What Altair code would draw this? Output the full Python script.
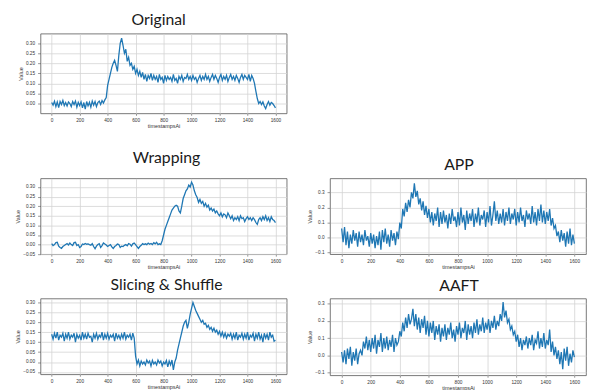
import altair as alt
import pandas as pd

# timestamps (every 10th sample)
TIMES = list(range(0, 1601, 10))
X_TICKS = [0, 200, 400, 600, 800, 1000, 1200, 1400, 1600]
Y_TICKS_A = [-0.05, 0.0, 0.05, 0.10, 0.15, 0.20, 0.25, 0.30]
Y_TICKS_B = [-0.1, 0.0, 0.1, 0.2, 0.3]

original = [
    0.005, -0.008, 0.012, -0.015, 0.008, -0.02, 0.01, -0.005, 0.015, -0.01,
    0.005, -0.012, 0.008, 0.0, -0.015, 0.01, -0.005, 0.012, -0.018, 0.006,
    -0.01, 0.008, -0.022, 0.005, -0.028, 0.01, -0.012, 0.006, -0.018, 0.012,
    -0.008, 0.01, -0.015, 0.005, 0.012, -0.005, 0.015, 0.002, 0.018, 0.03,
    0.09, 0.12, 0.15, 0.18, 0.2, 0.215, 0.19, 0.16, 0.24, 0.3,
    0.325, 0.29, 0.25, 0.27, 0.21, 0.23, 0.19, 0.2, 0.17, 0.185,
    0.15, 0.17, 0.14, 0.16, 0.13, 0.155, 0.12, 0.145, 0.11, 0.14,
    0.125, 0.15, 0.115, 0.14, 0.12, 0.135, 0.105, 0.145, 0.12, 0.13,
    0.1, 0.14, 0.115, 0.135, 0.12, 0.13, 0.11, 0.145, 0.115, 0.125,
    0.1, 0.135, 0.12, 0.14, 0.11, 0.13, 0.125, 0.145, 0.12, 0.135,
    0.115, 0.14, 0.12, 0.13, 0.105, 0.125, 0.14, 0.115, 0.135, 0.12,
    0.145, 0.12, 0.135, 0.11, 0.13, 0.145, 0.12, 0.14, 0.125, 0.105,
    0.13, 0.145, 0.115, 0.135, 0.12, 0.14, 0.11, 0.13, 0.145, 0.12,
    0.135, 0.115, 0.14, 0.125, 0.105, 0.13, 0.145, 0.12, 0.14, 0.13,
    0.12, 0.145, 0.11, 0.14, 0.125, 0.1, 0.06, 0.025, 0.0, 0.01,
    -0.005, 0.008, -0.012, -0.025, -0.005, 0.01, -0.008, 0.005, 0.0, -0.01,
    -0.022,
]

wrapping = [
    0.005, -0.005, 0.0, 0.01, 0.012, -0.008, -0.015, -0.02, -0.01, -0.005,
    0.0, 0.005, -0.002, 0.008, 0.0, -0.005, 0.01, 0.012, -0.005, 0.0,
    -0.015, -0.01, 0.003, 0.0, 0.006, 0.002, 0.004, 0.0, -0.003, 0.005,
    -0.01, -0.022, -0.008, 0.0, 0.005, -0.015, -0.005, 0.008, 0.003, -0.002,
    -0.01, -0.005, 0.0, -0.012, -0.02, -0.01, -0.005, 0.003, 0.0, -0.015,
    -0.008, -0.01, -0.004, 0.0, -0.006, 0.005, 0.002, -0.008, 0.004, 0.008,
    0.0, -0.01, -0.02, -0.01, -0.004, 0.005, 0.0, 0.004, 0.0, 0.008,
    0.002, 0.006, 0.0, 0.01, 0.004, 0.012, 0.0, 0.004, 0.0, 0.02,
    0.05, 0.08, 0.1, 0.12, 0.14, 0.16, 0.18, 0.19, 0.2, 0.205,
    0.2, 0.175, 0.165, 0.2, 0.24, 0.26, 0.28, 0.29, 0.31, 0.3,
    0.325, 0.31, 0.28, 0.26, 0.245, 0.22, 0.235, 0.215, 0.225, 0.2,
    0.215, 0.195, 0.205, 0.18, 0.19, 0.175, 0.185, 0.165, 0.175, 0.16,
    0.15, 0.165, 0.145, 0.16, 0.155, 0.14, 0.165, 0.15, 0.135, 0.15,
    0.125, 0.14, 0.13, 0.145, 0.125, 0.15, 0.135, 0.14, 0.12, 0.135,
    0.145, 0.13, 0.14, 0.125, 0.14, 0.13, 0.115, 0.105, 0.13, 0.14,
    0.125, 0.145, 0.13, 0.15, 0.125, 0.14, 0.12, 0.145, 0.13, 0.125,
    0.115,
]

app = [
    0.06, -0.03, 0.07, -0.05, 0.04, -0.07, 0.02, -0.04, 0.05, -0.02,
    0.03, -0.06, 0.04, -0.03, 0.02, -0.05, 0.05, -0.02, 0.01, -0.06,
    0.03, -0.04, 0.02, -0.07, 0.01, -0.05, 0.04, -0.08, 0.05, -0.03,
    0.06, -0.04, 0.02, -0.06, 0.05, -0.02, 0.03, -0.05, 0.04, -0.01,
    0.1, 0.06, 0.19, 0.14, 0.23, 0.17, 0.25, 0.2, 0.3, 0.26,
    0.36, 0.27, 0.31, 0.22, 0.26, 0.18, 0.24, 0.15, 0.21, 0.13,
    0.19, 0.1, 0.17, 0.08, 0.16, 0.11, 0.2, 0.07, 0.17, 0.09,
    0.18, 0.1, 0.15, 0.06, 0.16, 0.09, 0.19, 0.11, 0.14, 0.07,
    0.17, 0.08, 0.2, 0.1, 0.15, 0.05, 0.18, 0.09, 0.16, 0.11,
    0.19, 0.07, 0.16, 0.1, 0.2, 0.08, 0.15, 0.12, 0.18, 0.07,
    0.17, 0.1, 0.21, 0.08, 0.15, 0.24, 0.11, 0.18, 0.09, 0.16,
    0.1, 0.19, 0.08, 0.17, 0.11, 0.2, 0.09, 0.16, 0.12, 0.19,
    0.08, 0.17, 0.1, 0.2, 0.11, 0.15, 0.07, 0.18, 0.12, 0.16,
    0.09, 0.21, 0.1, 0.17, 0.08, 0.19, 0.11, 0.22, 0.1, 0.18,
    0.09, 0.17, 0.11, 0.19, 0.08, 0.13, 0.06, 0.08, 0.01, 0.04,
    -0.03, 0.05, -0.02, 0.03, -0.06, 0.04, -0.04, 0.06, -0.05, 0.02,
    -0.04,
]

slicing = [
    0.14, 0.115, 0.145, 0.12, 0.15, 0.11, 0.135, 0.125, 0.145, 0.105,
    0.14, 0.12, 0.15, 0.115, 0.135, 0.125, 0.145, 0.1, 0.14, 0.12,
    0.135, 0.11, 0.15, 0.12, 0.14, 0.115, 0.145, 0.125, 0.13, 0.1,
    0.14, 0.12, 0.145, 0.115, 0.135, 0.125, 0.15, 0.11, 0.14, 0.12,
    0.145, 0.115, 0.135, 0.125, 0.14, 0.105, 0.145, 0.12, 0.135, 0.115,
    0.14, 0.12, 0.15, 0.115, 0.135, 0.125, 0.14, 0.11, 0.145, 0.12,
    0.03, -0.01, 0.01, -0.02, 0.005, -0.01, 0.0, -0.015, 0.01, -0.005,
    0.005, -0.02, 0.008, -0.01, 0.0, -0.015, 0.01, -0.005, 0.005, -0.02,
    0.0, -0.01, 0.008, -0.025, 0.005, -0.015, 0.01, -0.04, 0.0, 0.02,
    0.06, 0.09, 0.12, 0.15, 0.18, 0.2, 0.21, 0.17, 0.2, 0.24,
    0.27, 0.3, 0.28, 0.26, 0.245, 0.23, 0.215, 0.2, 0.21, 0.19,
    0.195, 0.175, 0.185, 0.165, 0.175, 0.155, 0.17, 0.15, 0.16, 0.14,
    0.155, 0.13, 0.15, 0.125, 0.145, 0.12, 0.14, 0.13, 0.145, 0.115,
    0.14, 0.12, 0.15, 0.11, 0.135, 0.125, 0.145, 0.115, 0.14, 0.12,
    0.15, 0.11, 0.135, 0.125, 0.145, 0.105, 0.14, 0.12, 0.15, 0.115,
    0.135, 0.1, 0.145, 0.12, 0.14, 0.11, 0.15, 0.125, 0.135, 0.105,
    0.11,
]

aaft = [
    0.02, -0.04, 0.03, -0.05, 0.04, -0.02, 0.05, -0.06, 0.02, -0.03,
    0.04, -0.05, 0.01, 0.03, 0.0, 0.08, 0.04, 0.11, 0.03, 0.09,
    0.02, 0.1, 0.04, 0.12, 0.01, 0.09, 0.05, 0.13, 0.02, 0.1,
    0.04, 0.11, 0.03, 0.09, 0.05, 0.12, 0.02, 0.1, 0.06, 0.08,
    0.14, 0.11, 0.19, 0.14, 0.22, 0.16, 0.24, 0.18, 0.21, 0.27,
    0.17, 0.24, 0.15, 0.22, 0.13, 0.21, 0.16, 0.23, 0.12, 0.2,
    0.11, 0.19, 0.13, 0.2, 0.09, 0.17, 0.12, 0.18, 0.08, 0.16,
    0.11, 0.18, 0.09, 0.16, 0.12, 0.19, 0.1, 0.15, 0.08, 0.17,
    0.12, 0.19, 0.1, 0.16, 0.13, 0.2, 0.09, 0.18, 0.12, 0.17,
    0.1, 0.19, 0.13, 0.21, 0.12, 0.18, 0.14, 0.22, 0.13, 0.19,
    0.15, 0.21, 0.13, 0.2, 0.16, 0.23, 0.15, 0.2, 0.17, 0.24,
    0.2, 0.31, 0.22, 0.26, 0.19, 0.21, 0.15, 0.17, 0.12, 0.14,
    0.08, 0.12, 0.05, 0.1, 0.03, 0.09, 0.06, 0.11, 0.04, 0.1,
    0.06, 0.12, 0.03, 0.09, 0.07, 0.14, 0.04, 0.1, 0.05, 0.13,
    0.04, 0.09, 0.06, 0.15, 0.02, 0.08, 0.0, 0.05, -0.02, 0.03,
    -0.05, 0.02, -0.08, 0.04, -0.03, 0.05, -0.06, 0.01, -0.04, 0.03,
    -0.01,
]

LINE_COLOR = "#1f77b4"
TITLE_FONT = "Lato"
TICK_FONT = "Liberation Sans"


def panel(values, title, ydom, yticks, yfmt, w, h, dx, offset):
    df = pd.DataFrame({"t": TIMES, "v": values})
    return (
        alt.Chart(
            df,
            title=alt.TitleParams(
                title, font=TITLE_FONT, fontSize=16, fontWeight="normal",
                color="#1a1a1a", anchor="middle", baseline="alphabetic",
                offset=offset, dx=dx,
            ),
        )
        .mark_line(color=LINE_COLOR, strokeWidth=1.3)
        .encode(
            x=alt.X(
                "t:Q",
                scale=alt.Scale(domain=[-80, 1680], nice=False, zero=False),
                axis=alt.Axis(values=X_TICKS, format="d", title="timestampsAi",
                              tickSize=2, labelPadding=2, titlePadding=2),
            ),
            y=alt.Y(
                "v:Q",
                scale=alt.Scale(domain=ydom, nice=False, zero=False),
                axis=alt.Axis(values=yticks, format=yfmt, title="Value",
                              tickSize=3, labelPadding=3, titlePadding=2),
            ),
        )
        .properties(width=w, height=h)
    )


p_orig = panel(original, "Original", [-0.049, 0.348], Y_TICKS_A, ".2f", 250, 81, -5, -7)
p_wrap = panel(wrapping, "Wrapping", [-0.05, 0.345], Y_TICKS_A, ".2f", 250, 77, 3, 0)
p_app = panel(app, "APP", [-0.11, 0.393], Y_TICKS_B, ".1f", 260, 77, 1, -8)
p_slic = panel(slicing, "Slicing & Shuffle", [-0.062, 0.32], Y_TICKS_A, ".2f", 250, 77, 3, -7)
p_aaft = panel(aaft, "AAFT", [-0.115, 0.33], Y_TICKS_B, ".1f", 260, 78, 1, -8)

spacer = (
    alt.Chart(pd.DataFrame({"a": [0]}))
    .mark_point(opacity=0)
    .encode(x=alt.X("a:Q", axis=None), y=alt.Y("a:Q", axis=None))
    .properties(width=260, height=102, view=alt.ViewBackground(stroke="transparent"))
)

chart = (
    alt.concat(
        p_orig, spacer, p_wrap, p_app, p_slic, p_aaft,
        columns=2, spacing={"row": 45, "column": 44}, bounds="flush", align="each",
    )
    .properties(padding={"left": 7, "top": 0, "right": 0, "bottom": 0}, background="white")
    .configure_view(stroke="#555555", strokeWidth=0.8)
    .configure_axis(
        domain=False, grid=True, gridColor="#d4d4d4", gridWidth=0.8,
        tickColor="#555555", tickWidth=0.6,
        labelFont=TICK_FONT, labelFontSize=4.8, labelColor="#333333",
        titleFont=TICK_FONT, titleFontSize=5.5, titleFontWeight="normal", titleColor="#333333",
    )
)

chart.save("out.html", embed_options={"renderer": "svg", "actions": False})
